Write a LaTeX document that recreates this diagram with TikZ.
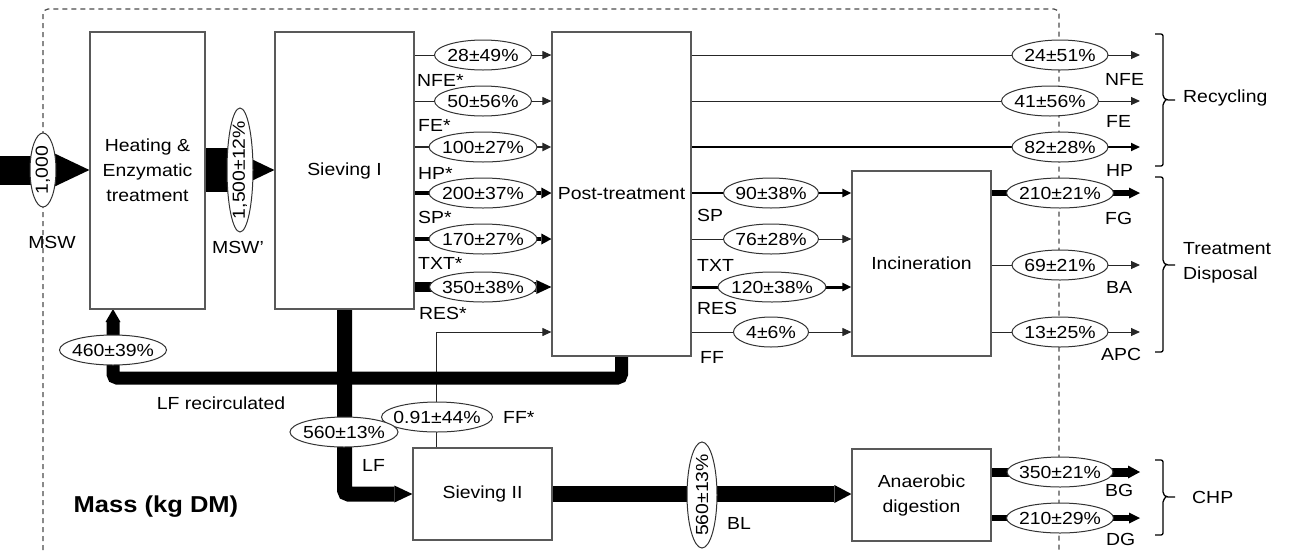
\documentclass[tikz,border=0pt]{standalone}
\usepackage{fontspec}
\setmainfont{Liberation Sans}[FakeStretch=1.11]
\usetikzlibrary{shapes.geometric,arrows.meta}
\pgfdeclarelayer{bg}
\pgfsetlayers{bg,main}
\definecolor{boxc}{gray}{0.35}
\definecolor{elc}{gray}{0.2}
\definecolor{lnc}{gray}{0.15}
\definecolor{dashc}{gray}{0.3}
\begin{document}
\begin{tikzpicture}[x=1pt,y=-1pt,
 every node/.style={font=\fontsize{17.5}{25}\selectfont},
 box/.style={draw=boxc,line width=1.2pt,fill=white,inner sep=0pt,align=center},
 fl/.style={ellipse,draw=elc,line width=1pt,fill=white,inner sep=0pt,minimum height=30pt},
 vfl/.style={ellipse,draw=elc,line width=1pt,fill=white,inner sep=0pt,rotate=90},
 lbl/.style={inner sep=0pt,anchor=west},
 ln/.style={draw=lnc,line width=1pt},
 fk/.style={draw=black},
 arr/.style={-{Triangle[length=9pt,width=8pt]}},
 brc/.style={draw=black,line width=1.3pt,rounded corners=2pt},
 bnd/.style={draw=dashc,line width=1.2pt,dash pattern=on 5pt off 4pt,rounded corners=5pt}
]
\useasboundingbox (0,0) rectangle (1296,550);

% boxes
\node[box,minimum width=115pt,minimum height=277pt] (heat) at (147.5,170.5) {Heating \&\\Enzymatic\\treatment};
\node[box,minimum width=139pt,minimum height=277pt] (sv1) at (344.5,170.5) {Sieving I};
\node[box,minimum width=139pt,minimum height=324pt] (pt) at (621.5,194) {Post-treatment};
\node[box,minimum width=139pt,minimum height=185pt] (inc) at (921.5,263.5) {Incineration};
\node[box,minimum width=139pt,minimum height=92pt] (sv2) at (482.5,494) {Sieving II};
\node[box,minimum width=139pt,minimum height=92pt] (ad) at (921.5,495) {Anaerobic\\digestion};

% ellipses
\node[vfl,minimum width=74pt,minimum height=26pt] (m1) at (43,170) {\makebox[0pt]{1,000}};
\node[vfl,minimum width=124pt,minimum height=26pt] (m2) at (240,170) {\makebox[0pt]{1,500±12\%}};
\node[fl,minimum width=97pt] (e1) at (483,55) {\makebox[0pt]{28±49\%}};
\node[fl,minimum width=97pt] (e2) at (483,101) {\makebox[0pt]{50±56\%}};
\node[fl,minimum width=108pt] (e3) at (483,147) {\makebox[0pt]{100±27\%}};
\node[fl,minimum width=108pt] (e4) at (483,193) {\makebox[0pt]{200±37\%}};
\node[fl,minimum width=108pt] (e5) at (483,239) {\makebox[0pt]{170±27\%}};
\node[fl,minimum width=107pt] (e6) at (483,287) {\makebox[0pt]{350±38\%}};
\node[fl,minimum width=96pt] (r1) at (1060,55) {\makebox[0pt]{24±51\%}};
\node[fl,minimum width=97pt] (r2) at (1050,101) {\makebox[0pt]{41±56\%}};
\node[fl,minimum width=96pt] (r3) at (1060,147) {\makebox[0pt]{82±28\%}};
\node[fl,minimum width=95pt] (p1) at (771,193) {\makebox[0pt]{90±38\%}};
\node[fl,minimum width=95pt] (p2) at (771,239) {\makebox[0pt]{76±28\%}};
\node[fl,minimum width=108pt] (p3) at (772,287) {\makebox[0pt]{120±38\%}};
\node[fl,minimum width=75pt] (p4) at (771,332) {\makebox[0pt]{4±6\%}};
\node[fl,minimum width=107pt] (r4) at (1060,193) {\makebox[0pt]{210±21\%}};
\node[fl,minimum width=96pt] (r5) at (1060,265) {\makebox[0pt]{69±21\%}};
\node[fl,minimum width=96pt] (r6) at (1060,332) {\makebox[0pt]{13±25\%}};
\node[fl,minimum width=106pt] (r7) at (1060,472) {\makebox[0pt]{350±21\%}};
\node[fl,minimum width=107pt] (r8) at (1060,518) {\makebox[0pt]{210±29\%}};
\node[fl,minimum width=107pt] (rc) at (113,350) {\makebox[0pt]{460±39\%}};
\node[fl,minimum width=111pt] (ffe) at (437,417) {\makebox[0pt]{0.91±44\%}};
\node[fl,minimum width=108pt] (lfe) at (344,432) {\makebox[0pt]{560±13\%}};
\node[vfl,minimum width=106pt,minimum height=30pt] (ble) at (702,495) {\makebox[0pt]{560±13\%}};

% labels
\node[inner sep=0pt] (lmsw) at (52,242) {MSW};
\node[inner sep=0pt] (lmsw2) at (238,247) {MSW'};
\node[lbl] (l1) at (417,80) {NFE*};
\node[lbl] (l2) at (418,125) {FE*};
\node[lbl] (l3) at (418,173) {HP*};
\node[lbl] (l4) at (418,217) {SP*};
\node[lbl] (l5) at (418,263) {TXT*};
\node[lbl] (l6) at (419,313) {RES*};
\node[lbl] (q1) at (697,215) {SP};
\node[lbl] (q2) at (697,265) {TXT};
\node[lbl] (q3) at (697,308) {RES};
\node[lbl] (q4) at (700,357) {FF};
\node[lbl] (s1) at (1105,79) {NFE};
\node[lbl] (s2) at (1106,121) {FE};
\node[lbl] (s3) at (1106,170) {HP};
\node[lbl] (s4) at (1105,218) {FG};
\node[lbl] (s5) at (1106,287) {BA};
\node[lbl] (s6) at (1101,354) {APC};
\node[lbl] (s7) at (1105,490) {BG};
\node[lbl] (s8) at (1106,539) {DG};
\node[inner sep=0pt] (lrec) at (221,403) {LF recirculated};
\node[lbl] (llf) at (362,465) {LF};
\node[lbl] (lffs) at (503,417) {FF*};
\node[lbl] (lbl2) at (727,523) {BL};
\node[inner sep=0pt,font=\fontsize{23}{28}\selectfont\bfseries] (mass) at (156,507) {Mass (kg DM)};
\node[lbl] (g1) at (1183,98) {Recycling};
\node[lbl,align=left] (g2) at (1183,263) {Treatment\\Disposal};
\node[lbl] (g3) at (1192,497) {CHP};

% braces
\draw[brc] (1155,34) -- (1163,34) -- (1163,97) -- (1166,100) -- (1175,100) (1166,100) -- (1163,103) -- (1163,166) -- (1155,166);
\draw[brc] (1155,177) -- (1163,177) -- (1163,262) -- (1166,265) -- (1175,265) (1166,265) -- (1163,268) -- (1163,352) -- (1155,352);
\draw[brc] (1155,460) -- (1163,460) -- (1163,494) -- (1166,497) -- (1175,497) (1166,497) -- (1163,500) -- (1163,535) -- (1155,535);

\coordinate (ox) at (1140,0);
\coordinate (src) at (0,170);
\coordinate (ffa) at (436,332);
\coordinate (rca) at (621.5,378);
\coordinate (rcb) at (113,378);
\coordinate (rcc) at (113,309);

\begin{pgfonlayer}{bg}
\draw[bnd] (43,550) -- (43,9) -- (1059,9) -- (1059,550);
% input flows
\draw[fk,line width=29pt,-{Triangle[length=40pt,width=38pt,line width=0pt]}] (src) -- (heat.west |- src);
\draw[fk,line width=44pt,-{Triangle[length=46pt,width=44pt,line width=0pt]}] (heat.east |- m2) -- (sv1.west |- m2);
% sieving I -> post
\draw[ln,arr] (sv1.east |- e1) -- (pt.west |- e1);
\draw[ln,arr] (sv1.east |- e2) -- (pt.west |- e2);
\draw[ln,line width=2pt,arr] (sv1.east |- e3) -- (pt.west |- e3);
\draw[fk,line width=4pt,-{Triangle[length=10pt,width=11pt,line width=0pt]}] (sv1.east |- e4) -- (pt.west |- e4);
\draw[fk,line width=4pt,-{Triangle[length=10pt,width=11pt,line width=0pt]}] (sv1.east |- e5) -- (pt.west |- e5);
\draw[fk,line width=10pt,-{Triangle[length=15pt,width=14pt,line width=0pt]}] (sv1.east |- e6) -- (pt.west |- e6);
% post -> right
\draw[ln,arr] (pt.east |- r1) -- (ox |- r1);
\draw[ln,arr] (pt.east |- r2) -- (ox |- r2);
\draw[ln,line width=2pt,draw=black,arr] (pt.east |- r3) -- (ox |- r3);
% post -> incineration
\draw[ln,line width=2.5pt,draw=black,arr] (pt.east |- p1) -- (inc.west |- p1);
\draw[ln,arr] (pt.east |- p2) -- (inc.west |- p2);
\draw[ln,line width=3pt,draw=black,arr] (pt.east |- p3) -- (inc.west |- p3);
\draw[ln,arr] (pt.east |- p4) -- (inc.west |- p4);
% incineration -> right
\draw[fk,line width=6pt,-{Triangle[length=11pt,width=11pt,line width=0pt]}] (inc.east |- r4) -- (ox |- r4);
\draw[ln,arr] (inc.east |- r5) -- (ox |- r5);
\draw[ln,arr] (inc.east |- r6) -- (ox |- r6);
% AD -> right
\draw[fk,line width=9pt,-{Triangle[length=12pt,width=13pt,line width=0pt]}] (ad.east |- r7) -- (ox |- r7);
\draw[fk,line width=6pt,-{Triangle[length=11pt,width=11pt,line width=0pt]}] (ad.east |- r8) -- (ox |- r8);
% FF*
\draw[ln,arr] (ffa |- sv2.north) -- (ffa) -- (pt.west |- ffa);
% recirculation
\draw[fk,line width=13pt,rounded corners=4pt,-{Triangle[length=13pt,width=15pt,line width=0pt]}] (pt.south) -- (rca) -- (rcb) -- (rcc);
% LF
\draw[fk,line width=15pt,rounded corners=4pt,-{Triangle[length=18pt,width=17pt,line width=0pt]}] (sv1.south) -- (sv1.south |- sv2.west) -- (sv2.west);
% BL
\draw[fk,line width=16pt,-{Triangle[length=17pt,width=18pt,line width=0pt]}] (sv2.east) -- (sv2.east -| ad.west);
\end{pgfonlayer}
\end{tikzpicture}
\end{document}
